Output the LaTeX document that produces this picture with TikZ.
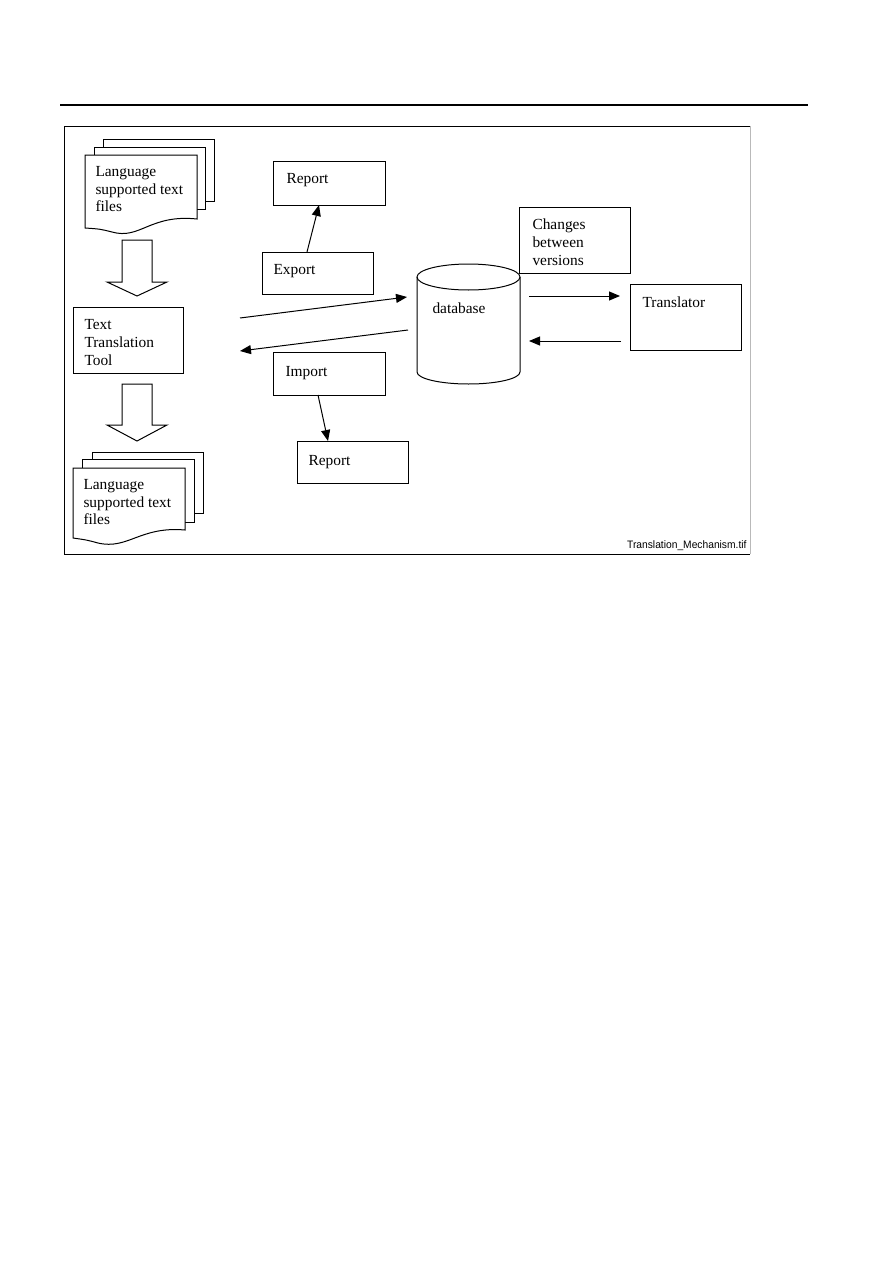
\documentclass[tikz,border=0pt]{standalone}
\usepackage{fontspec}
\setmainfont{Liberation Serif}
\newfontfamily\capfont{Liberation Sans}
\usetikzlibrary{arrows.meta}
\begin{document}
\begin{tikzpicture}[x=1pt,y=-1pt,
  line width=1pt,
  box/.style={draw,line width=1pt,inner sep=0pt,anchor=north west},
  txt/.style={anchor=base west,inner sep=0pt,font=\fontsize{15.4}{17.5}\selectfont},
  arr/.style={-{Triangle[length=11pt,width=9pt]},line width=1pt},
  page/.style={draw,fill=white,line width=1pt},
  blockarrow/.style={draw,fill=white,line width=1pt,line join=miter}]
\useasboundingbox (0,0) rectangle (893,1263);
\fill[white] (0,0) rectangle (893,1263);
% header rule
\draw[line width=1.3pt] (60,105) -- (808,105);
% frame
\draw[gray!55] (750,126) -- (750,554);
\draw (750,554) -- (64,554) -- (64,126) -- (750,126);

% top document stack
\draw[page] (103,139) rectangle (214,201);
\draw[page] (94,147) rectangle (205,209);
\draw[page] (85,155) -- (197,155) -- (197,219)
  .. controls (150,214) and (140,240) .. (112,232)
  .. controls (100,229) .. (85,228) -- cycle;
\node[txt] (lang1a) at (95,176) {Language};
\node[txt] (lang1b) at (95,194) {supported text};
\node[txt] (lang1c) at (95,211) {files};

% block arrow 1
\draw[blockarrow] (122,240) -- (152,240) -- (152,282) -- (167,282) -- (137,296) -- (107,282) -- (122,282) -- cycle;

% Text Translation Tool
\node[box,minimum width=110pt,minimum height=66pt] (ttt) at (73,307) {};
\node[txt] (ttt1) at (84,329) {Text};
\node[txt] (ttt2) at (84,347) {Translation};
\node[txt] (ttt3) at (84,365) {Tool};

% block arrow 2
\draw[blockarrow] (122,384) -- (152,384) -- (152,425) -- (167,425) -- (137,441) -- (107,425) -- (122,425) -- cycle;

% bottom document stack
\draw[page] (92,452) rectangle (203,513);
\draw[page] (82,459) rectangle (194,522);
\draw[page] (73,468) -- (185,468) -- (185,530)
  .. controls (140,526) and (128,550) .. (98,543)
  .. controls (87,540) .. (73,538) -- cycle;
\node[txt] (lang2a) at (83,489) {Language};
\node[txt] (lang2b) at (83,507) {supported text};
\node[txt] (lang2c) at (83,524) {files};

% Report (top)
\node[box,minimum width=112pt,minimum height=44pt] (rep1) at (273,161) {};
\node[txt] (rep1t) at (286,183) {Report};
% Export
\node[box,minimum width=111pt,minimum height=42pt] (expo) at (262,252) {};
\node[txt] (expot) at (273,274) {Export};
% Import
\node[box,minimum width=112pt,minimum height=43pt] (impo) at (273,352) {};
\node[txt] (impot) at (285,376) {Import};
% Report (bottom)
\node[box,minimum width=111pt,minimum height=42pt] (rep2) at (297,441) {};
\node[txt] (rep2t) at (308,465) {Report};

% database cylinder
\draw[fill=white] (417,277) -- (417,372) arc[start angle=180,end angle=360,x radius=51.5pt,y radius=12pt] -- (520,277);
\draw (468.5,277) ellipse[x radius=51.5pt,y radius=13pt];
\coordinate (db) at (468.5,325);
\node[txt] (dbt) at (432,313) {database};

% Changes between versions
\node[box,minimum width=111pt,minimum height=66pt] (chg) at (519,207) {};
\node[txt] (chg1) at (532,229) {Changes};
\node[txt] (chg2) at (532,247) {between};
\node[txt] (chg3) at (532,265) {versions};

% Translator
\node[box,minimum width=111pt,minimum height=66pt] (trans) at (630,284) {};
\node[txt] (transt) at (642,307) {Translator};

% connector end points
\coordinate (a1s) at (240,318);
\coordinate (a1e) at (407,297);
\coordinate (a2s) at (408,330);
\coordinate (a2e) at (240,351);
\coordinate (a3s) at (307,252);
\coordinate (a3e) at (319,205);
\coordinate (a4s) at (318,395);
\coordinate (a4e) at (328,441);
\coordinate (a5s) at (529,296);
\coordinate (a5e) at (620,296);
\coordinate (a6s) at (621,341);
\coordinate (a6e) at (529,341);

\draw[arr] (a1s) -- (a1e);
\draw[arr] (a2s) -- (a2e);
\draw[arr] (a3s) -- (a3e);
\draw[arr] (a4s) -- (a4e);
\draw[arr] (a5s) -- (a5e);
\draw[arr] (a6s) -- (a6e);

% caption
\node[anchor=base east,inner sep=0pt] (cap) at (747,548) {\scalebox{0.95}[1]{\capfont\fontsize{10.8}{12}\selectfont Translation\_Mechanism.tif}};
\end{tikzpicture}
\end{document}
